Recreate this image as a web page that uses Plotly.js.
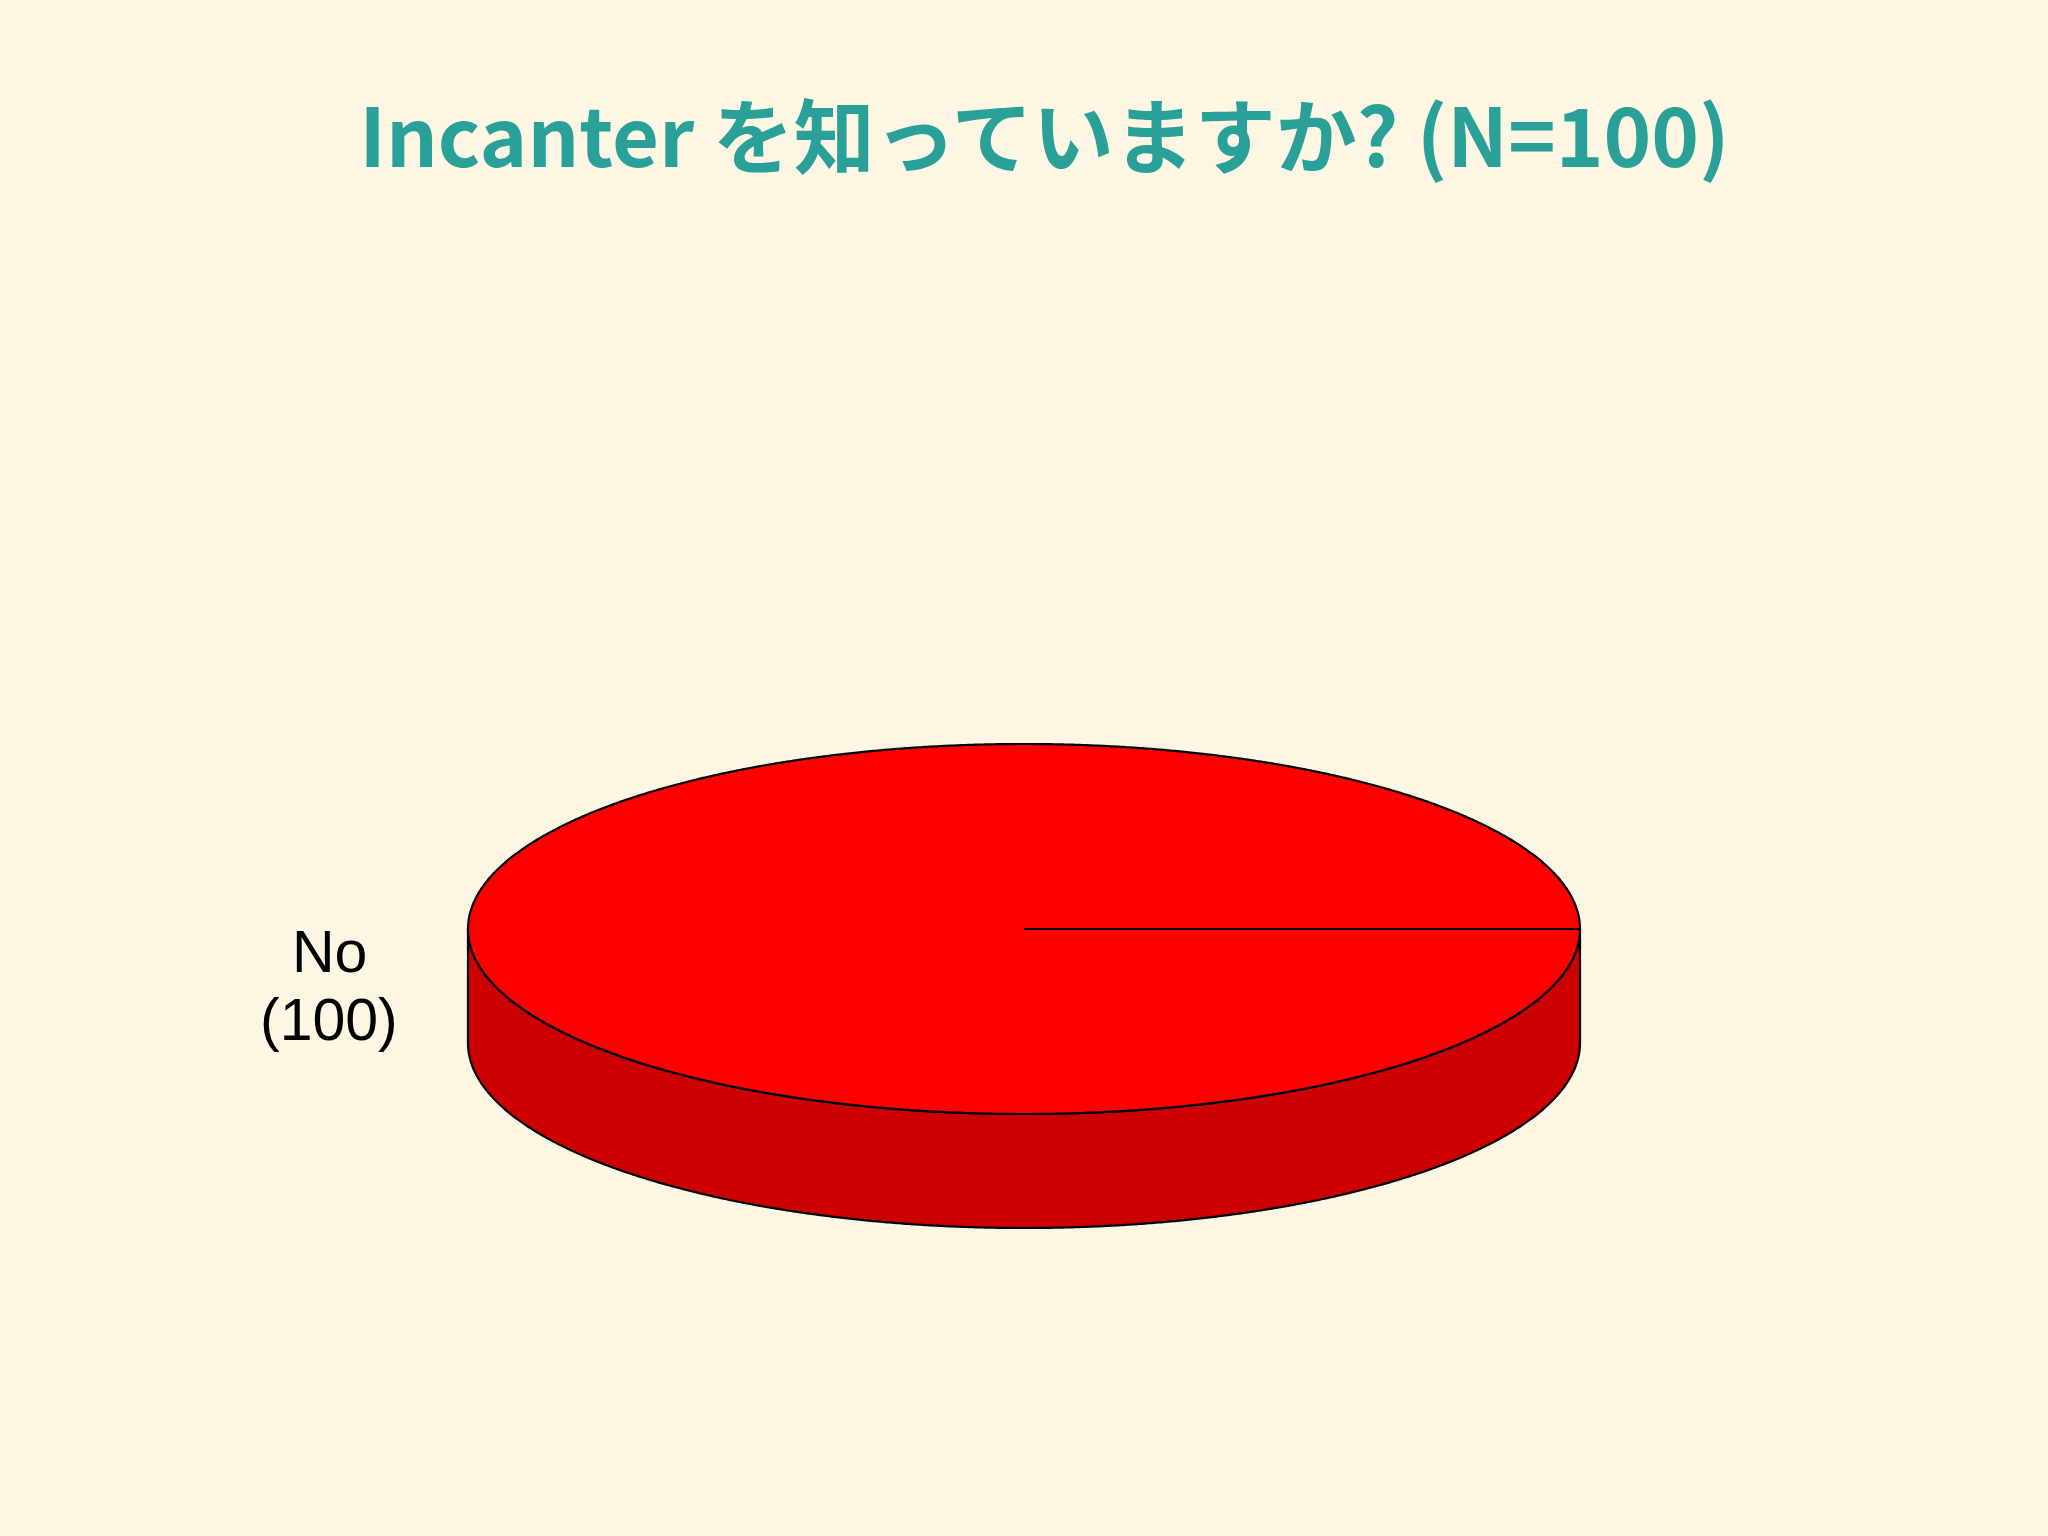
<!DOCTYPE html>
<html>
<head>
<meta charset="utf-8">
<script src="https://cdn.plot.ly/plotly-3.0.1.min.js"></script>
<style>
	html, body { margin: 0; padding: 0; background: #fdf6e3; }
	#chart { width: 2048px; height: 1536px; }
</style>
</head>
<body>
<div id="chart"></div>
<script>
	"use strict";

	// answers to the survey question
	const labels = ["No"];
	const counts = [100];
	const sliceColors = ["#ff0000"];
	const sideColors = ["#cc0000"];
	const titleText = "Incanter を知っていますか? (N=100)";

	// pie geometry in pixels (y grows downwards)
	const W = 2048, H = 1536;
	const cx = 1024, cy = 929, rx = 556, ry = 185, depth = 114;

	function arc(a0, a1, dy) {
		const xs = [], ys = [];
		const n = Math.max(2, Math.ceil(Math.abs(a1 - a0) / (Math.PI / 720)));
		for (let i = 0; i <= n; i++) {
			const t = a0 + (a1 - a0) * i / n;
			xs.push(cx + rx * Math.cos(t));
			ys.push(cy + dy + ry * Math.sin(t));
		}
		return { xs, ys };
	}

	const edge = { color: "#000000", width: 2.2, simplify: false };
	const total = counts.reduce((a, b) => a + b, 0);
	const traces = [];
	const annotations = [];
	let start = 0;

	counts.forEach((v, i) => {
		const end = start + 2 * Math.PI * v / total;

		// visible side: only the front half (0..pi on screen)
		const s0 = Math.max(start, 0), s1 = Math.min(end, Math.PI);
		if (s1 > s0) {
			const top = arc(s0, s1, 0);
			const bot = arc(s1, s0, depth);
			traces.push({
				type: "scatter", mode: "lines",
				x: top.xs.concat(bot.xs, [top.xs[0]]),
				y: top.ys.concat(bot.ys, [top.ys[0]]),
				fill: "toself", fillcolor: sideColors[i],
				line: edge,
				hoverinfo: "skip", showlegend: false,
			});
		}

		// top face of the slice
		const face = arc(start, end, 0);
		const full = (end - start) >= 2 * Math.PI - 1e-9;
		traces.push({
			type: "scatter", mode: "lines",
			x: full ? face.xs : [cx].concat(face.xs, [cx]),
			y: full ? face.ys : [cy].concat(face.ys, [cy]),
			fill: "toself", fillcolor: sliceColors[i],
			line: edge,
			hoverinfo: "skip", showlegend: false,
		});

		// slice boundary from centre
		traces.push({
			type: "scatter", mode: "lines",
			x: [cx, cx + rx * Math.cos(start)],
			y: [cy, cy + ry * Math.sin(start)],
			line: edge,
			hoverinfo: "skip", showlegend: false,
		});

		// label outside the slice middle
		const mid = (start + end) / 2;
		const lx = cx + 1.25 * rx * Math.cos(mid);
		const ly = cy + depth / 2 + 1.25 * ry * Math.sin(mid);
		const font = { family: "Liberation Sans", size: 59, color: "#000000" };
		annotations.push({
			x: lx, y: ly - 34, xref: "x", yref: "y", text: labels[i],
			showarrow: false, font, xanchor: "center", yanchor: "middle",
		});
		annotations.push({
			x: lx, y: ly + 34, xref: "x", yref: "y", text: "(" + v + ")",
			showarrow: false, font, xanchor: "center", yanchor: "middle",
		});

		start = end;
	});

	const layout = {
		width: W, height: H,
		margin: { t: 0, r: 0, b: 0, l: 0 },
		paper_bgcolor: "#fdf6e3",
		plot_bgcolor: "#fdf6e3",
		title: {
			text: "<b>" + titleText + "</b>",
			font: { family: "Noto Sans CJK JP", size: 81, color: "#2aa198" },
			x: 0.51, xanchor: "center",
			y: 1 - 139 / H, yanchor: "middle",
		},
		xaxis: { range: [0, W], visible: false, fixedrange: true },
		yaxis: { range: [H, 0], visible: false, fixedrange: true },
		annotations,
		showlegend: false,
		hovermode: false,
	};

	Plotly.newPlot("chart", traces, layout, { displayModeBar: false, staticPlot: true });
</script>
</body>
</html>
